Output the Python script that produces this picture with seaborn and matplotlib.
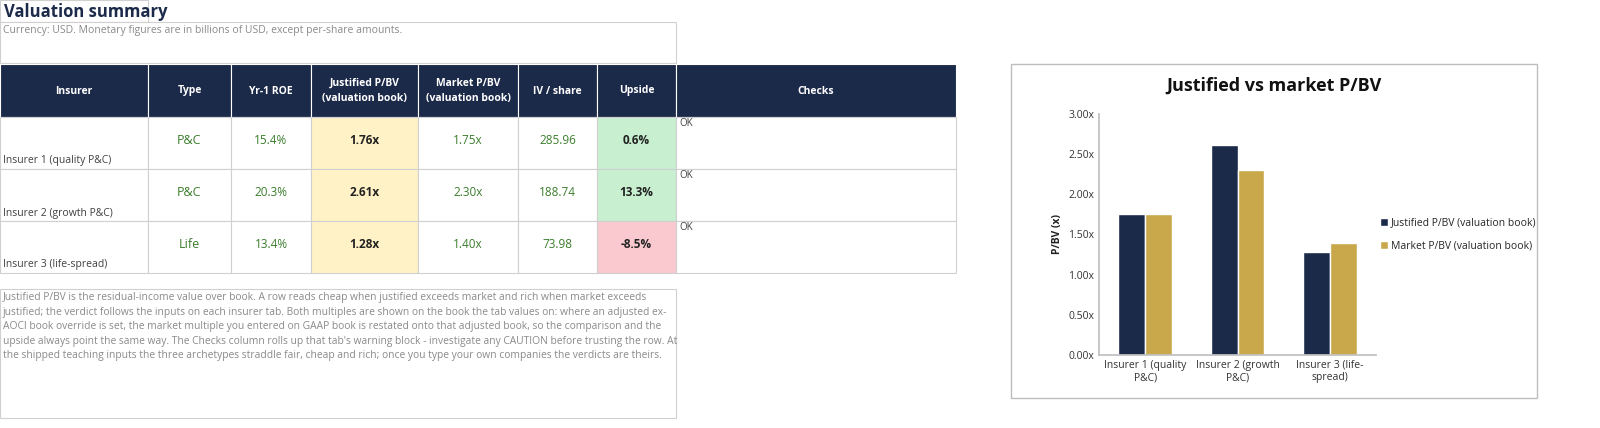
import matplotlib
matplotlib.use("Agg")
import matplotlib.pyplot as plt
import seaborn as sns
import pandas as pd
from matplotlib.patches import Rectangle

insurers = ["Insurer 1 (quality P&C)", "Insurer 2 (growth P&C)", "Insurer 3 (life-spread)"]
chart_labels = ["Insurer 1 (quality\nP&C)", "Insurer 2 (growth\nP&C)", "Insurer 3 (life-\nspread)"]
types = ["P&C", "P&C", "Life"]
roe = [15.4, 20.3, 13.4]
justified = [1.76, 2.61, 1.28]
market = [1.75, 2.30, 1.40]
iv_share = [285.96, 188.74, 73.98]
upside = [0.6, 13.3, -8.5]
checks = ["OK", "OK", "OK"]
series_names = ["Justified P/BV (valuation book)", "Market P/BV (valuation book)"]

sns.set_theme(style="white")
plt.rcParams['font.family'] = ['Open Sans', 'DejaVu Sans']

W, H = 1600, 428
fig = plt.figure(figsize=(16, 4.28), dpi=100)
NAVY = "#1c2a4a"; GOLD = "#c9a84c"; GREEN = "#3a7d2c"; GRID = "#d0d0d0"

def fx(x): return x / W
def fy(y): return 1 - y / H
def rect(x0, y0, x1, y1, fc="white", ec=GRID, lw=0.8):
    fig.patches.append(Rectangle((fx(x0), fy(y1)), fx(x1) - fx(x0), fy(y0) - fy(y1),
                                 transform=fig.transFigure, fc=fc, ec=ec, lw=lw, zorder=0))
def txt(x, y, s, **kw):
    fig.text(fx(x), fy(y), s, **kw)

rect(0, 0, 148, 22)
txt(4, 12, "Valuation summary", fontsize=12, fontweight="bold", color=NAVY, va="center")
rect(0, 22, 676, 63)
txt(3, 30, "Currency: USD. Monetary figures are in billions of USD, except per-share amounts.",
    fontsize=7.5, color="#8a8a8a", va="center")

cols = [0, 148, 231, 311, 418, 518, 597, 676, 956]
heads = ["Insurer", "Type", "Yr-1 ROE", "Justified P/BV\n(valuation book)",
         "Market P/BV\n(valuation book)", "IV / share", "Upside", "Checks"]
for i, h in enumerate(heads):
    rect(cols[i], 64, cols[i + 1], 117, fc=NAVY, ec="white")
    txt((cols[i] + cols[i + 1]) / 2, 91, h, fontsize=7.5, fontweight="bold", color="white",
        ha="center", va="center", linespacing=1.5)

rows = [117, 169, 221, 273]
for r in range(3):
    y0, y1 = rows[r], rows[r + 1]
    ym = (y0 + y1) / 2 - 2
    up_fc = "#c8efcf" if upside[r] >= 0 else "#f9c9cf"
    fills = ["white", "white", "white", "#fff2c6", "white", "white", up_fc, "white"]
    for i in range(8):
        rect(cols[i], y0, cols[i + 1], y1, fc=fills[i])
    txt(3, y1 - 8, insurers[r], fontsize=7.5, color="#404040", va="center")
    txt((cols[1] + cols[2]) / 2, ym, types[r], fontsize=9, color=GREEN, ha="center", va="center")
    txt((cols[2] + cols[3]) / 2, ym, f"{roe[r]:.1f}%", fontsize=8.5, color=GREEN, ha="center", va="center")
    txt((cols[3] + cols[4]) / 2, ym, f"{justified[r]:.2f}x", fontsize=8.5, color="#222222", fontweight="bold", ha="center", va="center")
    txt((cols[4] + cols[5]) / 2, ym, f"{market[r]:.2f}x", fontsize=8.5, color=GREEN, ha="center", va="center")
    txt((cols[5] + cols[6]) / 2, ym, f"{iv_share[r]:.2f}", fontsize=8.5, color=GREEN, ha="center", va="center")
    txt((cols[6] + cols[7]) / 2, ym, f"{upside[r]:.1f}%", fontsize=8.5, color="#222222", fontweight="bold", ha="center", va="center")
    txt(679, y0 + 6, checks[r], fontsize=7, color="#404040", va="center")

rect(0, 289, 676, 418)
para = ("Justified P/BV is the residual-income value over book. A row reads cheap when justified exceeds market and rich when market exceeds\n"
        "justified; the verdict follows the inputs on each insurer tab. Both multiples are shown on the book the tab values on: where an adjusted ex-\n"
        "AOCI book override is set, the market multiple you entered on GAAP book is restated onto that adjusted book, so the comparison and the\n"
        "upside always point the same way. The Checks column rolls up that tab's warning block - investigate any CAUTION before trusting the row. At\n"
        "the shipped teaching inputs the three archetypes straddle fair, cheap and rich; once you type your own companies the verdicts are theirs.")
txt(3, 292, para, fontsize=7.4, color="#8a8a8a", va="top", linespacing=1.45)

# chart
rect(1011, 64, 1537, 398, ec="#bdbdbd", lw=1)
txt(1274, 86, "Justified vs market P/BV", fontsize=13, fontweight="bold", color="#111111", ha="center", va="center")
ax = fig.add_axes([fx(1099), fy(355), fx(1376) - fx(1099), fy(114) - fy(355)])
ax.set_zorder(5)
ax.patch.set_alpha(0)
df = pd.DataFrame({"Insurer": chart_labels * 2,
                   "Series": [series_names[0]] * 3 + [series_names[1]] * 3,
                   "Value": justified + market})
sns.barplot(data=df, x="Insurer", y="Value", hue="Series", palette=[NAVY, GOLD],
            width=0.58, ax=ax, saturation=1)
ax.set_ylim(0, 3)
ax.set_yticks([0, 0.5, 1, 1.5, 2, 2.5, 3])
ax.set_yticklabels([f"{v:.2f}x" for v in ax.get_yticks()], fontsize=7.5, color="#333333")
ax.tick_params(axis="x", labelsize=7.5, colors="#333333", length=0)
ax.tick_params(axis="y", length=0)
ax.set_xlabel("")
ax.set_ylabel("P/BV (x)", fontsize=7.5, fontweight="bold", color="#222222")
for s in ["top", "right"]:
    ax.spines[s].set_visible(False)
for s in ["left", "bottom"]:
    ax.spines[s].set_color("#c0c0c0")
ax.legend(loc="center left", bbox_to_anchor=(0.98, 0.5), frameon=False, fontsize=7.5,
          handlelength=0.8, handleheight=0.8, handletextpad=0.3, labelspacing=1.2)

fig.savefig("out.png", dpi=100)
